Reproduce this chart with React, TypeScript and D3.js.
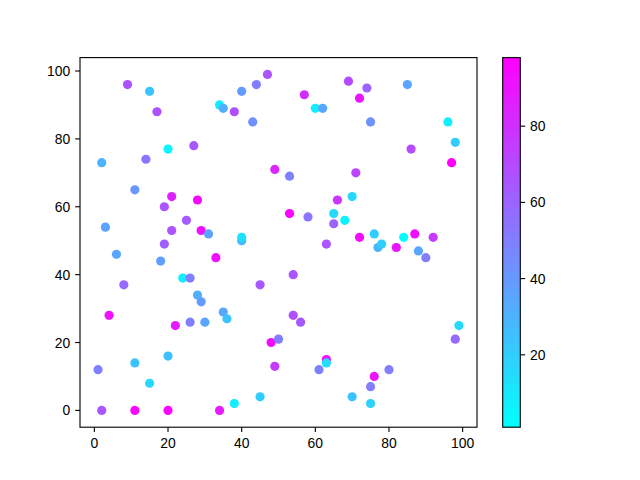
import React from "react";
import * as d3 from "d3";

const xs = [9,15,17,34,35,40,44,47,38,43,20,27,2,14,49,11,21,28,19,25,3,21,29,31,40,40,69,74,85,57,72,60,62,75,96,98,86,97,53,71,66,70,53,58,65,68,65,72,76,84,87,92,63,77,78,82,88,90,54,54,56,48,50,49,63,63,61,80,76,75,70,75,99,98,19,6,18,33,24,26,8,45,28,29,4,35,36,22,26,30,20,11,1,15,45,38,2,11,20,34];
const ys = [96,94,88,90,89,94,96,99,88,85,77,78,73,74,71,65,63,62,60,56,54,53,53,52,50,51,97,95,96,93,92,89,89,85,85,79,77,73,69,70,62,63,58,57,58,56,55,51,52,51,52,51,49,48,49,48,47,45,40,28,26,20,21,13,15,14,12,12,10,7,4,2,25,21,49,46,44,45,39,39,37,37,34,32,28,29,27,25,26,26,16,14,12,8,4,2,0,0,0,0];
const cs = [68,23,68,8,32,39,50,66,68,43,5,64,30,54,83,41,85,94,66,64,36,66,92,36,28,12,70,60,35,81,90,8,35,43,8,20,70,98,49,72,78,16,96,54,16,6,60,94,20,1,92,76,66,28,20,90,35,51,66,68,64,94,51,76,92,14,49,50,90,50,24,18,16,58,62,35,37,92,8,50,58,64,32,39,92,35,24,88,49,35,24,24,49,16,20,8,66,96,96,88];
const xTicks = [0, 20, 40, 60, 80, 100];
const yTicks = [0, 20, 40, 60, 80, 100];
const cTicks = [20, 40, 60, 80];

const cool = (t: number) => {
  const u = Math.max(0, Math.min(1, t));
  return `rgb(${Math.round(255 * u)},${Math.round(255 * (1 - u))},255)`;
};

export default function App() {
  const W = 640, H = 480;
  const L = 80, R = 477, T = 57.6, B = 427.2;
  const font = "'Liberation Sans', Arial, sans-serif";
  const fs = 13.9;
  const tickLen = 4.86;

  const [xmin, xmax] = d3.extent(xs) as [number, number];
  const [ymin, ymax] = d3.extent(ys) as [number, number];
  const [cmin, cmax] = d3.extent(cs) as [number, number];
  const xm = (xmax - xmin) * 0.05;
  const ym = (ymax - ymin) * 0.05;
  const x = d3.scaleLinear().domain([xmin - xm, xmax + xm]).range([L, R]);
  const y = d3.scaleLinear().domain([ymin - ym, ymax + ym]).range([B, T]);
  const cn = d3.scaleLinear().domain([cmin, cmax]).range([0, 1]);

  const cbL = 502.7, cbR = 520.3;
  const cy = d3.scaleLinear().domain([cmin, cmax]).range([B, T]);
  const stops = d3.range(0, 11).map((i) => i / 10);

  const pts = xs.map((v, i) => ({ x: v, y: ys[i], c: cs[i] }));

  return (
    <div style={{ position: "absolute", left: 0, top: 0 }}>
      <svg width={W} height={H} style={{ display: "block", background: "#fff" }}>
        <defs>
          <linearGradient id="cbar" x1="0" y1="1" x2="0" y2="0">
            {stops.map((s) => (
              <stop key={s} offset={s} stopColor={cool(s)} />
            ))}
          </linearGradient>
          <clipPath id="ax">
            <rect x={L} y={T} width={R - L} height={B - T} />
          </clipPath>
        </defs>
        <rect x={0} y={0} width={W} height={H} fill="#fff" />
        <g clipPath="url(#ax)">
          {pts.map((p, i) => (
            <circle key={i} cx={x(p.x)} cy={y(p.y)} r={4.6} fill={cool(cn(p.c))} />
          ))}
        </g>
        <rect x={L} y={T} width={R - L} height={B - T} fill="none" stroke="#000" strokeWidth={1.11} />
        {xTicks.map((t) => (
          <g key={"x" + t}>
            <line x1={x(t)} x2={x(t)} y1={B} y2={B + tickLen} stroke="#000" strokeWidth={1.11} />
            <text x={x(t)} y={B + tickLen + 4.86 + fs * 0.78} textAnchor="middle" fontFamily={font} fontSize={fs} fill="#000">
              {t}
            </text>
          </g>
        ))}
        {yTicks.map((t) => (
          <g key={"y" + t}>
            <line x1={L - tickLen} x2={L} y1={y(t)} y2={y(t)} stroke="#000" strokeWidth={1.11} />
            <text x={L - tickLen - 4.86} y={y(t)} dy="0.36em" textAnchor="end" fontFamily={font} fontSize={fs} fill="#000">
              {t}
            </text>
          </g>
        ))}
        <rect x={cbL} y={T} width={cbR - cbL} height={B - T} fill="url(#cbar)" />
        <rect x={cbL} y={T} width={cbR - cbL} height={B - T} fill="none" stroke="#000" strokeWidth={1.11} />
        {cTicks.map((t) => (
          <g key={"c" + t}>
            <line x1={cbR} x2={cbR + tickLen} y1={cy(t)} y2={cy(t)} stroke="#000" strokeWidth={1.11} />
            <text x={cbR + tickLen + 4.86} y={cy(t)} dy="0.36em" textAnchor="start" fontFamily={font} fontSize={fs} fill="#000">
              {t}
            </text>
          </g>
        ))}
      </svg>
    </div>
  );
}
